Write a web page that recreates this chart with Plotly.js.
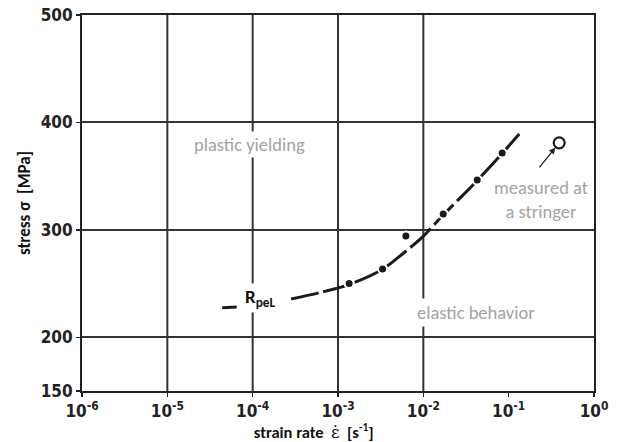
<!DOCTYPE html>
<html>
<head>
<meta charset="utf-8">
<script src="https://cdn.plot.ly/plotly-3.0.1.min.js"></script>
<style>html,body{margin:0;padding:0;background:#fff;}#chart{width:617px;height:442px;}</style>
</head>
<body>
<div id="chart"></div>
<script>
// ---- data ----
// R_peL curve (strain rate in 1/s, stress in MPa); null = break behind the label
var curveRate   = [4.4e-5, 6.5e-5, null, 2.82e-4, 6.17e-4, 1.35e-3, 3.29e-3, 5.79e-3, 9.95e-3, 1.71e-2, 4.28e-2, 8.39e-2, 1.33e-1];
var curveStress = [227.5, 228.3, null, 235.6, 241.7, 249.1, 263.1, 278.0, 294.0, 313.8, 345.9, 371.1, 389.2];
// measured points
var dotRate   = [1.35e-3, 3.33e-3, 6.24e-3, 1.71e-2, 4.28e-2, 8.4e-2];
var dotStress = [250, 263.6, 294.3, 314.8, 346.4, 371.5];
// point measured at a stringer
var stringerRate   = [0.391];
var stringerStress = [381];
// axes
var xTickVals = [1e-6, 1e-5, 1e-4, 1e-3, 1e-2, 1e-1, 1];
var xTickText = ['10<sup>-6</sup>', '10<sup>-5</sup>', '10<sup>-4</sup>', '10<sup>-3</sup>', '10<sup>-2</sup>', '10<sup>-1</sup>', '10<sup>0</sup>'];
var xGridVals = [1e-5, 1e-4, 1e-3, 1e-2];
var yTickVals = [150, 200, 300, 400, 500];

var tickFont = {family: 'Liberation Sans Narrow, DejaVu Sans Condensed, sans-serif', size: 17, color: '#222', weight: 'bold'};
var txtFamily = 'Carlito, Lato, sans-serif';
var gray = '#a3a3a3';
var gridColor = '#333';

var traces = [
  {x: curveRate, y: curveStress, mode: 'lines', connectgaps: false,
   line: {color: '#1b1b1b', width: 3, shape: 'spline', smoothing: 0.8, dash: '28px,5px'},
   hoverinfo: 'skip', showlegend: false},
  {x: dotRate, y: dotStress, mode: 'markers',
   marker: {color: '#1b1b1b', size: 9, line: {color: '#fff', width: 2}}, showlegend: false},
  {x: stringerRate, y: stringerStress, mode: 'markers',
   marker: {symbol: 'circle-open', color: '#1b1b1b', size: 11, line: {width: 2.2, color: '#1b1b1b'}}, showlegend: false}
];

var L = Math.log10;
var shapes = xGridVals.map(function (v) {
  return {type: 'line', xref: 'x', yref: 'paper', x0: v, x1: v, y0: 0, y1: 1,
          line: {color: gridColor, width: 2}, layer: 'below'};
});

var pad = new Array(14).join('&nbsp;');

var layout = {
  width: 617, height: 442,
  margin: {l: 82, r: 23, t: 15, b: 51, pad: 0},
  paper_bgcolor: '#fff', plot_bgcolor: '#fff',
  showlegend: false,
  shapes: shapes,
  xaxis: {
    type: 'log', range: [-6, 0], tickvals: xTickVals, ticktext: xTickText,
    showgrid: false, zeroline: false, showline: true, mirror: true,
    linecolor: '#222', linewidth: 2, ticks: 'outside', ticklen: 4, tickwidth: 1.5, tickcolor: '#222',
    tickfont: tickFont,
    title: {text: '<b>strain rate</b>&nbsp;&nbsp;<span style="font-family:DejaVu Serif;font-weight:normal">ε̇</span>&nbsp;&nbsp;<b>[s<sup>-1</sup>]</b>' + pad,
            font: {family: txtFamily, size: 16.5, color: '#111'}, standoff: 6}
  },
  yaxis: {
    range: [150, 500], tickvals: yTickVals,
    showgrid: true, gridcolor: gridColor, gridwidth: 2, zeroline: false,
    showline: true, mirror: true, linecolor: '#222', linewidth: 2,
    ticks: 'outside', ticklen: 4, tickwidth: 1.5, tickcolor: '#222',
    tickfont: tickFont,
    title: {text: '<b>stress σ  [MPa]</b>', font: {family: txtFamily, size: 17, color: '#111'}, standoff: 6}
  },
  annotations: [
    {x: L(1e-4) - 0.042, y: 379, xref: 'x', yref: 'y', text: 'plastic yielding', showarrow: false,
     font: {family: txtFamily, size: 18.5, color: gray}, bgcolor: '#fff', borderpad: 1},
    {x: -0.619, y: 328.3, xref: 'x', yref: 'y', text: 'measured at<br>a stringer', showarrow: false,
     font: {family: txtFamily, size: 18.5, color: gray}, bgcolor: '#fff', borderpad: 0},
    {x: -1.381, y: 223.5, xref: 'x', yref: 'y', text: 'elastic behavior', showarrow: false,
     font: {family: txtFamily, size: 18.5, color: gray}, bgcolor: '#fff', borderpad: 2},
    {x: -3.913, y: 236.6, xref: 'x', yref: 'y', text: '<b>R<sub>peL</sub></b>', showarrow: false,
     font: {family: txtFamily, size: 19, color: '#111'}, bgcolor: '#fff', borderpad: 1},
    {x: L(stringerRate[0]), y: stringerStress[0], xref: 'x', yref: 'y', text: '', showarrow: true,
     ax: -21, ay: 26, arrowhead: 2, arrowsize: 1, arrowwidth: 1.3, arrowcolor: '#222', standoff: 6}
  ]
};

Plotly.newPlot('chart', traces, layout, {staticPlot: true, displayModeBar: false});
</script>
</body>
</html>
